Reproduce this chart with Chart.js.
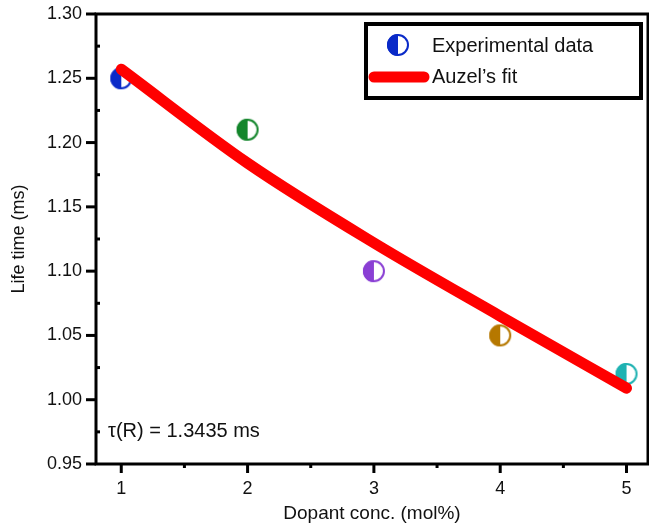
<!DOCTYPE html>
<html>
<head>
<meta charset="utf-8">
<script src="https://cdn.jsdelivr.net/npm/chart.js@4.4.1/dist/chart.umd.min.js"></script>
<style>
    html, body { margin: 0; padding: 0; background: #fff; }
    #wrap { width: 649px; height: 527px; }
</style>
</head>
<body>
<div id="wrap"><canvas id="chart"></canvas></div>
<script>
// data
var dopant = [1, 2, 3, 4, 5];
var lifetime = [1.25, 1.21, 1.10, 1.05, 1.02];
var pointColors = ['#0a2ac8', '#14862c', '#8a3fd4', '#b67800', '#1fb2b2'];
var fitX = [1, 2, 3, 4, 5];
var fitY = [1.257, 1.184, 1.122, 1.065, 1.009];
var xTicks = [1, 2, 3, 4, 5];
var yTicks = [0.95, 1.00, 1.05, 1.10, 1.15, 1.20, 1.25, 1.30];

var FONT = '"Liberation Sans", Arial, sans-serif';

// half filled circle marker
function halfCircle(color, r) {
    var c = document.createElement('canvas');
    c.width = c.height = r * 2 + 4;
    var ctx = c.getContext('2d');
    var m = r + 2;
    ctx.fillStyle = '#fff';
    ctx.beginPath(); ctx.arc(m, m, r, 0, Math.PI * 2); ctx.fill();
    ctx.fillStyle = color;
    ctx.beginPath(); ctx.arc(m, m, r, Math.PI / 2, Math.PI * 1.5); ctx.closePath(); ctx.fill();
    ctx.strokeStyle = color;
    ctx.lineWidth = 2;
    ctx.beginPath(); ctx.arc(m, m, r - 1, 0, Math.PI * 2); ctx.stroke();
    return c;
}

var markers = pointColors.map(function(c) { return halfCircle(c, 11); });

var framePlugin = {
    id: 'frame',
    afterDatasetsDraw: function(chart) {
        var ctx = chart.ctx, a = chart.chartArea;
        var x = chart.scales.x, y = chart.scales.y;
        ctx.save();
        ctx.strokeStyle = '#000';
        ctx.lineWidth = 3;
        ctx.strokeRect(a.left, a.top, a.right - a.left, a.bottom - a.top);

        // y ticks
        yTicks.forEach(function(v) {
            var py = y.getPixelForValue(v);
            ctx.beginPath(); ctx.moveTo(a.left - 10, py); ctx.lineTo(a.left, py); ctx.stroke();
        });
        for (var i = 0; i < yTicks.length - 1; i++) {
            var py = y.getPixelForValue((yTicks[i] + yTicks[i + 1]) / 2);
            ctx.beginPath(); ctx.moveTo(a.left, py); ctx.lineTo(a.left + 4, py); ctx.stroke();
        }
        // x ticks
        xTicks.forEach(function(v) {
            var px = x.getPixelForValue(v);
            ctx.beginPath(); ctx.moveTo(px, a.bottom); ctx.lineTo(px, a.bottom + 9); ctx.stroke();
        });
        for (var j = 0; j < xTicks.length - 1; j++) {
            var px = x.getPixelForValue((xTicks[j] + xTicks[j + 1]) / 2);
            ctx.beginPath(); ctx.moveTo(px, a.bottom); ctx.lineTo(px, a.bottom + 4); ctx.stroke();
        }

        // annotation
        ctx.fillStyle = '#111';
        ctx.font = '20px ' + FONT;
        ctx.textBaseline = 'middle';
        ctx.fillText('\u03c4(R) = 1.3435 ms', a.left + 12, 431);

        // legend box
        ctx.fillStyle = '#fff';
        ctx.fillRect(366, 24, 275, 74);
        ctx.lineWidth = 4;
        ctx.strokeRect(366, 24, 275, 74);
        ctx.drawImage(markers[0], 398 - 13, 45 - 13);
        ctx.strokeStyle = '#ff0000';
        ctx.lineWidth = 11;
        ctx.lineCap = 'round';
        ctx.beginPath(); ctx.moveTo(374, 77); ctx.lineTo(424, 77); ctx.stroke();
        ctx.fillStyle = '#111';
        ctx.fillText('Experimental data', 432, 46);
        ctx.fillText('Auzel\u2019s fit', 432, 77);
        ctx.restore();
    }
};

new Chart(document.getElementById('chart'), {
    type: 'scatter',
    data: {
        datasets: [{
            label: "Auzel's fit",
            data: fitX.map(function(v, i) { return { x: v, y: fitY[i] }; }),
            showLine: true,
            borderColor: '#ff0000',
            borderWidth: 11,
            borderCapStyle: 'round',
            tension: 0.4,
            cubicInterpolationMode: 'monotone',
            pointRadius: 0,
            order: 0
        }, {
            label: 'Experimental data',
            data: dopant.map(function(v, i) { return { x: v, y: lifetime[i] }; }),
            pointStyle: markers,
            pointRadius: 11,
            order: 1
        }]
    },
    options: {
        responsive: true,
        maintainAspectRatio: false,
        animation: false,
        layout: { autoPadding: false, padding: { top: 14, right: 1, left: 0, bottom: 0 } },
        plugins: {
            legend: { display: false },
            tooltip: { enabled: false }
        },
        scales: {
            x: {
                type: 'linear',
                min: 0.8,
                max: 5.17,
                afterBuildTicks: function(scale) {
                    scale.ticks = xTicks.map(function(v) { return { value: v }; });
                },
                afterFit: function(scale) {
                    scale.height = 63;
                    scale.paddingLeft = 0;
                    scale.paddingRight = 0;
                },
                grid: { display: false, drawTicks: false },
                border: { display: false },
                ticks: {
                    padding: 14,
                    color: '#111',
                    font: { family: FONT, size: 18 },
                    callback: function(v) { return String(v); }
                },
                title: {
                    display: true,
                    text: 'Dopant conc. (mol%)',
                    color: '#111',
                    font: { family: FONT, size: 19 },
                    padding: { top: 0, bottom: 2 }
                }
            },
            y: {
                min: 0.95,
                max: 1.30,
                afterBuildTicks: function(scale) {
                    scale.ticks = yTicks.map(function(v) { return { value: v }; });
                },
                afterFit: function(scale) {
                    scale.width = 96;
                    scale.paddingTop = 0;
                    scale.paddingBottom = 0;
                },
                grid: { display: false, drawTicks: false },
                border: { display: false },
                ticks: {
                    padding: 14,
                    color: '#111',
                    font: { family: FONT, size: 18 },
                    callback: function(v) { return v.toFixed(2); }
                },
                title: {
                    display: true,
                    text: 'Life time (ms)',
                    color: '#111',
                    font: { family: FONT, size: 18 },
                    padding: { top: 8, bottom: 0 }
                }
            }
        }
    },
    plugins: [framePlugin]
});
</script>
</body>
</html>
